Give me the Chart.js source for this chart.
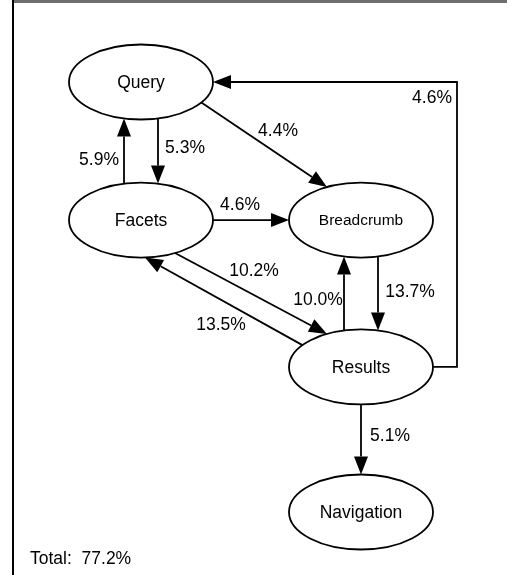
<!DOCTYPE html>
<html>
<head>
<meta charset="utf-8">
<script src="https://cdn.jsdelivr.net/npm/chart.js@4/dist/chart.umd.min.js"></script>
<style>
html,body{margin:0;padding:0;background:#fff;}
#wrap{width:507px;height:575px;}
</style>
</head>
<body>
<div id="wrap"><canvas id="c" width="507" height="575"></canvas></div>
<script>
// ---- data ----
const nodeNames = ['Query', 'Facets', 'Breadcrumb', 'Results', 'Navigation'];
const nodeCol = [0, 0, 1, 1, 1];
const nodeRow = [0, 0.963, 0.963, 1.988, 3];
const edgeFrom = [0, 1, 0, 1, 1, 3, 3, 2, 3, 3];
const edgeTo   = [1, 0, 2, 2, 3, 1, 2, 3, 4, 0];
const edgeShare = [5.3, 5.9, 4.4, 4.6, 10.2, 13.5, 10.0, 13.7, 5.1, 4.6];
const totalShare = 77.2;

// ---- layout / style ----
const RX = 72, RY = 37.5;
const routes = [
  {a: ['bottom', 17], b: ['top', 17]},
  {a: ['top', -17], b: ['bottom', -17]},
  {a: ['ray', 59, 20], b: ['ray', -34, -33]},
  {a: ['right', 0], b: ['left', 0]},
  {a: ['ray', 35, 34], b: ['ray', -35, -34]},
  {a: ['ray', -59, -22], b: ['ray', 4, 38]},
  {a: ['top', -17], b: ['bottom', -17]},
  {a: ['bottom', 17], b: ['top', 17]},
  {a: ['bottom', 0], b: ['top', 0]},
  {a: ['right', 0], b: ['right', 0], elbowX: 24}
];
const labelPos = [[185,148],[99,160],[278,131],[240,205],[254,271],[221,325],[318,300],[410,292],[390,436],[432,98]];
const FONT = '"Liberation Sans", Arial, Helvetica, sans-serif';
const ARROW_L = 18, ARROW_W = 7;

function port(cx, cy, spec) {
  const [s, a, b] = spec;
  if (s === 'top') return [cx + a, cy - RY * Math.sqrt(1 - (a / RX) ** 2)];
  if (s === 'bottom') return [cx + a, cy + RY * Math.sqrt(1 - (a / RX) ** 2)];
  if (s === 'right') return [cx + RX * Math.sqrt(1 - (a / RY) ** 2), cy + a];
  if (s === 'left') return [cx - RX * Math.sqrt(1 - (a / RY) ** 2), cy + a];
  const k = 1 / Math.sqrt((a / RX) ** 2 + (b / RY) ** 2);
  return [cx + a * k, cy + b * k];
}

function drawArrow(ctx, pts) {
  const n = pts.length;
  const T = pts[n - 1], P = pts[n - 2];
  const dx = T[0] - P[0], dy = T[1] - P[1];
  const len = Math.hypot(dx, dy);
  const ux = dx / len, uy = dy / len;
  const bx = T[0] - ux * ARROW_L, by = T[1] - uy * ARROW_L;
  ctx.beginPath();
  ctx.moveTo(pts[0][0], pts[0][1]);
  for (let i = 1; i < n - 1; i++) ctx.lineTo(pts[i][0], pts[i][1]);
  ctx.lineTo(bx, by);
  ctx.stroke();
  ctx.beginPath();
  ctx.moveTo(T[0], T[1]);
  ctx.lineTo(bx - uy * ARROW_W, by + ux * ARROW_W);
  ctx.lineTo(bx + uy * ARROW_W, by - ux * ARROW_W);
  ctx.closePath();
  ctx.fill();
}

const diagramPlugin = {
  id: 'diagram',
  beforeDraw(chart) {
    const ctx = chart.ctx;
    ctx.save();
    ctx.fillStyle = '#fff';
    ctx.fillRect(0, 0, chart.width, chart.height);
    ctx.fillStyle = '#6e6e6e';
    ctx.fillRect(12, 0, chart.width - 12, 3);
    ctx.fillStyle = '#000';
    ctx.fillRect(12, 0, 2, chart.height);
    ctx.restore();
  },
  afterDatasetsDraw(chart) {
    const ctx = chart.ctx;
    const pts = chart.getDatasetMeta(0).data.map(p => [p.x, p.y]);
    ctx.save();
    ctx.strokeStyle = '#000';
    ctx.fillStyle = '#000';
    ctx.lineWidth = 1.8;
    ctx.lineJoin = 'miter';
    // nodes
    pts.forEach((p, i) => {
      ctx.beginPath();
      ctx.ellipse(p[0], p[1], RX, RY, 0, 0, Math.PI * 2);
      ctx.stroke();
      ctx.font = (nodeNames[i] === 'Breadcrumb' ? '15.5px ' : '17.5px ') + FONT;
      ctx.textAlign = 'center';
      ctx.textBaseline = 'middle';
      ctx.fillText(nodeNames[i], p[0], p[1] + 1);
    });
    // edges
    edgeFrom.forEach((f, i) => {
      const r = routes[i];
      const A = port(pts[f][0], pts[f][1], r.a);
      const B = port(pts[edgeTo[i]][0], pts[edgeTo[i]][1], r.b);
      let path;
      if (r.elbowX) {
        const ex = A[0] + r.elbowX;
        path = [A, [ex, A[1]], [ex, B[1]], B];
      } else {
        path = [A, B];
      }
      drawArrow(ctx, path);
      ctx.font = '17.5px ' + FONT;
      ctx.textAlign = 'center';
      ctx.textBaseline = 'middle';
      ctx.fillText(edgeShare[i].toFixed(1) + '%', labelPos[i][0], labelPos[i][1]);
    });
    ctx.font = '17.5px ' + FONT;
    ctx.textAlign = 'left';
    ctx.textBaseline = 'middle';
    ctx.fillText('Total:  ' + totalShare.toFixed(1) + '%', 30, 559);
    ctx.restore();
  }
};

new Chart(document.getElementById('c'), {
  type: 'scatter',
  data: {
    labels: nodeNames,
    datasets: [{
      data: nodeNames.map((n, i) => ({x: nodeCol[i], y: nodeRow[i]})),
      pointRadius: 0,
      pointHoverRadius: 0
    }]
  },
  options: {
    responsive: false,
    animation: false,
    events: [],
    layout: {padding: 0},
    plugins: {legend: {display: false}, tooltip: {enabled: false}, title: {display: false}},
    scales: {
      x: {type: 'linear', display: false, min: -141 / 220, max: 1 + 146 / 220},
      y: {type: 'linear', display: false, reverse: true, min: -82 / 143.333, max: 3 + 63 / 143.333}
    }
  },
  plugins: [diagramPlugin]
});
</script>
</body>
</html>
